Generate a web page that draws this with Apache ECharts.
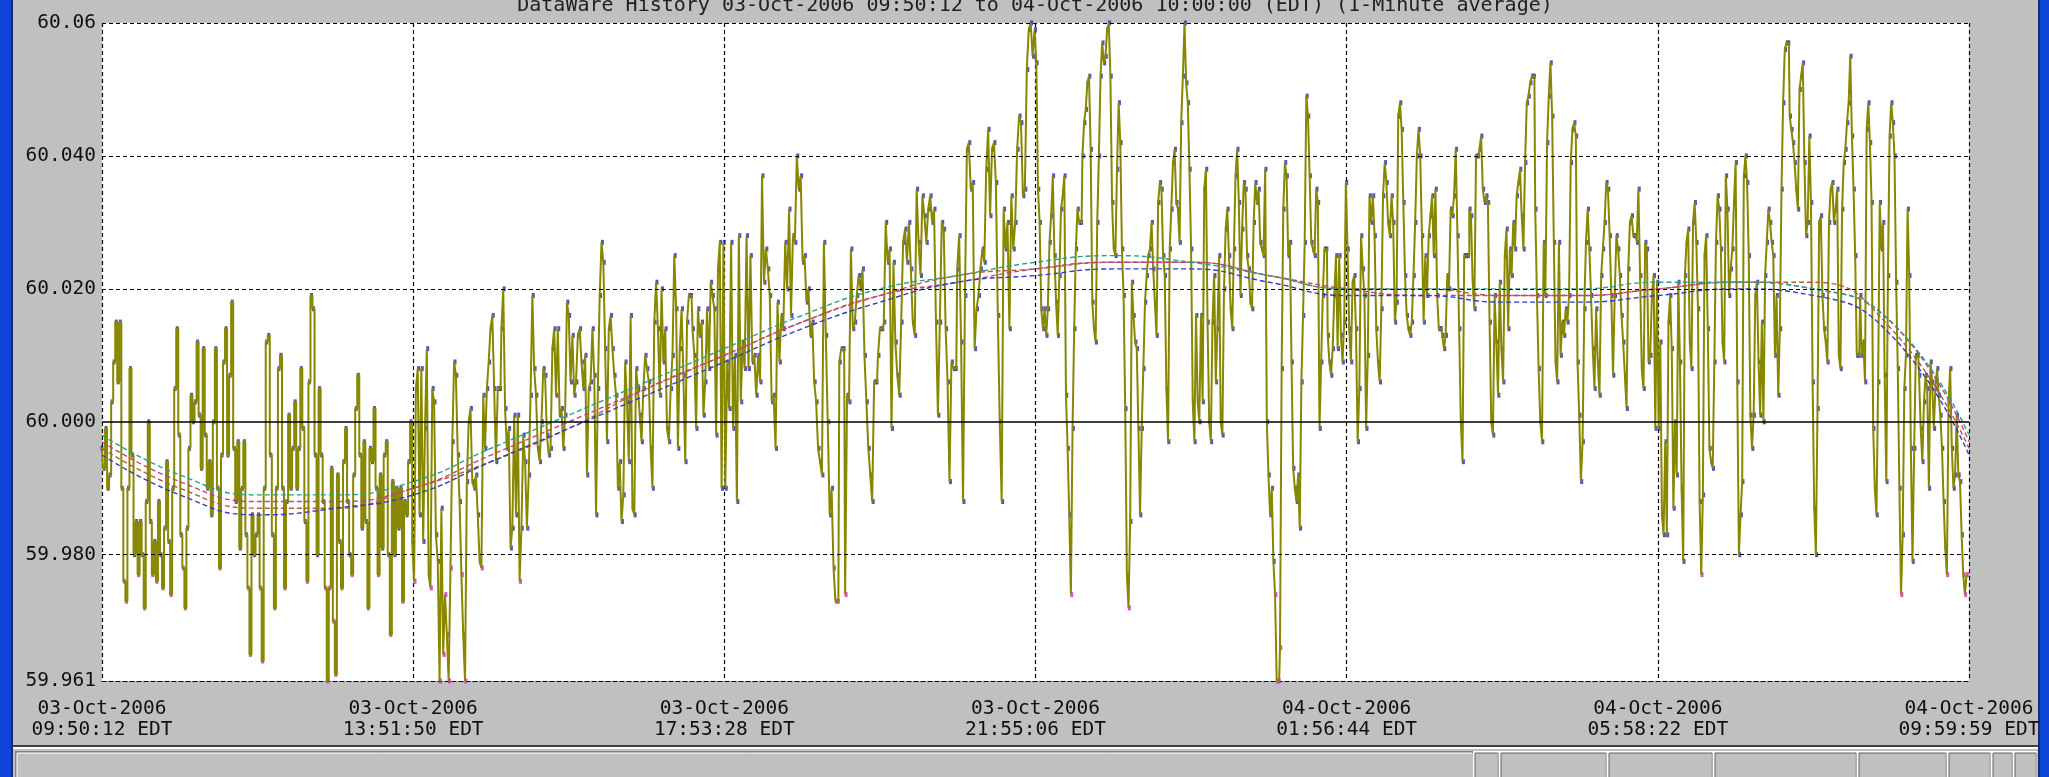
<!DOCTYPE html>
<html><head><meta charset="utf-8">
<script src="https://cdn.jsdelivr.net/npm/echarts@6/dist/echarts.min.js"></script>
<style>html,body{margin:0;padding:0;background:#c0c0c0;overflow:hidden}#c{width:2049px;height:777px;}</style>
</head><body><div id="c"></div><script>
// ---------- DATA ----------
const titleText = 'DataWare History 03-Oct-2006 09:50:12 to 04-Oct-2006 10:00:00 (EDT) (1-Minute average)';
const xTickLabels = ['03-Oct-2006\n09:50:12 EDT','03-Oct-2006\n13:51:50 EDT','03-Oct-2006\n17:53:28 EDT','03-Oct-2006\n21:55:06 EDT','04-Oct-2006\n01:56:44 EDT','04-Oct-2006\n05:58:22 EDT','04-Oct-2006\n09:59:59 EDT'];
const sectionSeconds = 14498;           // 4h01m38s between tick labels
const totalSeconds = 86988;
const yTicks = [60.06, 60.04, 60.02, 60.0, 59.98, 59.961];
const yTickLabels = ['60.06','60.040','60.020','60.000','59.980','59.961'];
const yMin = 59.961, yMax = 60.06;

// 1-minute averaged frequency, read section by section (between x tick labels)
const sec1 = [59.996,59.993,59.999,59.990,59.992,60.003,60.009,60.015,60.006,60.015,59.990,59.976,59.973,59.990,60.008,59.995,59.980,59.985,59.977,59.985,59.980,59.972,59.988,60.000,59.985,59.977,59.982,59.976,59.988,59.980,59.975,59.984,59.994,59.982,59.974,59.990,60.005,60.014,59.998,59.983,59.978,59.972,59.984,59.996,60.004,60.000,60.003,60.012,60.001,59.993,60.011,59.998,59.990,59.994,59.986,60.000,60.011,59.990,59.978,59.995,60.009,60.014,59.995,60.007,60.018,59.996,59.988,59.997,59.981,59.990,59.997,59.983,59.975,59.965,59.986,59.980,59.983,59.986,59.975,59.964,59.990,60.012,60.013,59.995,59.983,59.972,59.990,60.008,60.010,59.990,59.975,59.988,60.001,59.990,59.996,60.003,59.990,59.996,60.008,59.999,59.985,59.976,60.006,60.019,60.017,59.995,59.980,60.005,59.995,59.988,59.975,59.961,59.975,59.993,59.970,59.962,59.992,59.982,59.975,59.994,59.999,59.988,59.980,59.977,59.992,60.002,60.007,59.995,59.984,59.997,59.985,59.972,59.996,59.994,60.002,59.990,59.977,59.992,59.981,59.995,59.997,59.980,59.968,59.991,59.980,59.990,59.984,59.990,59.973,59.988,59.986,59.994,60.000];
const sec2 = [59.982,59.976,60.005,60.008,59.986,60.008,59.982,59.999,60.011,59.977,59.975,60.005,60.003,59.983,59.979,59.961,59.987,59.965,59.974,59.968,59.961,59.978,59.997,60.009,60.007,59.995,59.988,59.977,59.968,59.961,59.991,60.000,60.002,59.991,59.990,59.992,59.986,59.979,59.978,60.004,59.996,60.005,60.009,60.014,60.016,60.005,59.994,60.005,60.005,60.014,60.020,60.002,59.996,59.999,59.981,59.984,60.001,59.986,60.001,59.976,59.984,59.998,59.994,59.984,59.992,60.004,60.019,60.008,60.004,59.996,59.994,60.000,60.008,60.007,59.998,59.995,59.996,60.011,60.014,60.004,60.014,60.001,60.002,59.996,60.001,60.018,60.016,60.006,60.013,60.004,60.006,60.013,60.014,60.009,60.005,60.010,59.992,60.005,60.006,60.014,60.007,59.986,60.005,60.019,60.027,60.024,60.011,59.997,60.014,60.016,60.011,60.007,60.004,59.990,59.994,59.985,59.989,60.009,60.003,59.994,60.016,59.987,59.986,60.008,60.005,60.001,59.997,60.005,60.010,60.008,60.006,59.996,59.990,60.015,60.021,60.014,60.004,60.020,60.009,60.014,59.999,59.997,60.005,60.010,60.025,60.017,59.996,60.011,60.017,60.007,59.994,60.015,60.019,60.019,60.014,60.010,59.999,60.017,60.013,60.015,60.001,60.006,60.017,60.008,60.021,60.019,60.017,59.998,60.023,60.027,59.990];
const sec3 = [60.027,59.990,60.009,60.002,60.027,59.999,60.010,59.988,60.028,60.003,60.012,60.008,60.028,60.008,60.025,60.009,60.010,60.004,60.010,60.006,60.037,60.021,60.026,60.023,60.019,60.003,60.004,59.996,60.018,60.009,60.016,60.014,60.027,60.020,60.032,60.016,60.028,60.027,60.040,60.035,60.037,60.024,60.025,60.018,60.020,60.013,60.015,60.006,60.003,59.996,59.994,59.992,60.027,60.013,60.000,59.986,59.990,59.978,59.973,59.973,60.009,60.011,60.011,59.974,60.004,60.003,60.026,60.014,60.015,60.019,60.022,60.020,60.023,60.010,60.003,59.996,59.992,59.988,60.006,60.006,60.010,60.014,60.014,60.015,60.030,60.024,60.026,59.999,60.024,60.012,60.007,60.004,60.015,60.027,60.029,60.024,60.030,60.023,60.015,60.013,60.035,60.027,60.022,60.034,60.031,60.027,60.032,60.034,60.030,60.032,60.015,60.001,60.015,60.030,60.029,60.014,60.006,59.991,60.009,60.008,60.008,60.023,60.028,60.012,59.988,60.019,60.041,60.042,60.035,60.036,60.011,60.017,60.019,60.023,60.026,60.024,60.038,60.044,60.031,60.041,60.042,60.036,60.016,60.000,59.988,60.032,60.026,60.030,60.014,60.034,60.026,60.030,60.041,60.046,60.045,60.034,60.035,60.053,60.059,60.060,60.055];
const sec4 = [60.059,60.054,60.035,60.030,60.017,60.014,60.017,60.013,60.017,60.027,60.031,60.037,60.025,60.018,60.013,60.022,60.032,60.034,60.037,60.004,59.996,59.986,59.974,59.999,60.014,60.026,60.032,60.030,60.030,60.040,60.045,60.047,60.051,60.052,60.041,60.018,60.014,60.012,60.030,60.040,60.052,60.057,60.054,60.055,60.059,60.060,60.052,60.033,60.026,60.025,60.038,60.048,60.042,60.026,60.019,60.002,59.977,59.972,59.985,60.021,60.016,60.012,60.011,59.999,59.986,59.999,60.008,60.018,60.022,60.025,60.026,60.030,60.023,60.018,60.013,60.033,60.036,60.035,60.025,60.022,60.005,59.997,60.026,60.032,60.039,60.041,60.033,60.032,60.027,60.045,60.052,60.060,60.051,60.048,60.038,60.026,60.003,59.997,60.016,60.003,60.000,60.016,60.003,60.035,60.038,60.015,60.000,59.997,60.015,60.022,60.006,60.014,60.025,60.000,59.998,60.020,60.029,60.032,60.025,60.017,60.014,60.026,60.037,60.041,60.033,60.019,60.029,60.036,60.035,60.025,60.023,60.018,60.017,60.030,60.036,60.033,60.035,60.027,60.026,60.025,60.038,60.000,59.992,59.986,59.990,59.979,59.974,59.961,59.961,59.966,60.008,60.032,60.039,60.037,60.025,60.027,60.009,59.993,59.990,59.988,59.992,59.984,60.006,60.016,60.027,60.049,60.046,60.037,60.027,60.026,60.025,60.035,60.033,59.999,60.009,60.019,60.026,60.026,60.013,60.009,60.007,60.011,60.019,60.025,60.011,60.025,60.013,60.009,60.015];
const sec5 = [60.036,60.026,60.014,60.009,60.021,60.022,60.014,59.997,60.005,60.028,60.023,60.019,59.999,60.010,60.034,60.030,60.034,60.028,60.014,60.009,60.006,60.017,60.034,60.039,60.036,60.030,60.028,60.034,60.030,60.015,60.018,60.046,60.048,60.044,60.033,60.022,60.016,60.014,60.013,60.015,60.022,60.030,60.040,60.044,60.040,60.028,60.015,60.025,60.019,60.028,60.031,60.034,60.025,60.035,60.019,60.014,60.014,60.013,60.011,60.013,60.022,60.020,60.032,60.031,60.034,60.041,60.028,60.014,60.000,59.994,60.025,60.025,60.025,60.032,60.031,60.021,60.017,60.040,60.040,60.041,60.043,60.035,60.033,60.034,60.033,60.015,60.000,59.998,60.019,60.012,60.004,60.021,60.011,60.006,60.025,60.029,60.014,60.026,60.022,60.030,60.026,60.034,60.036,60.038,60.031,60.026,60.039,60.048,60.049,60.051,60.052,60.052,60.032,60.019,60.008,60.000,59.997,60.027,60.019,60.042,60.049,60.054,60.046,60.027,60.009,60.006,60.027,60.010,60.015,60.013,60.017,60.015,60.019,60.039,60.044,60.045,60.043,60.009,60.001,59.991,59.997,60.017,60.027,60.032,60.026,60.019,60.011,60.005,60.017,60.009,60.004,60.022,60.026,60.030,60.036,60.035,60.028,60.019,60.007,60.019,60.028,60.026,60.022,60.016,60.012,60.007,60.002,60.023,60.030,60.031,60.028,60.028,60.027,60.035,60.022,60.008,60.005,60.027,60.026,60.009,60.010,60.019,60.022,59.999];
const sec6 = [60.021,59.999,60.012,59.986,59.983,59.997,59.983,60.015,60.019,60.011,59.987,60.000,59.992,60.021,60.009,59.990,59.979,60.022,60.027,60.029,60.012,60.008,60.030,60.033,60.027,60.017,59.988,59.977,59.989,60.025,60.028,60.014,59.996,59.994,59.993,60.009,60.027,60.034,60.032,60.026,60.012,60.009,60.037,60.032,60.019,60.023,60.026,60.033,60.039,60.006,59.980,59.986,59.991,60.037,60.040,60.036,60.025,60.001,59.996,60.001,60.019,60.021,60.009,60.001,60.015,60.000,60.022,60.027,60.032,60.030,60.027,60.025,60.010,60.019,60.004,60.014,60.035,60.048,60.056,60.057,60.057,60.046,60.044,60.042,60.039,60.035,60.032,60.050,60.052,60.054,60.039,60.028,60.030,60.043,60.033,60.006,59.987,59.980,60.002,60.030,60.031,60.019,60.014,60.012,60.009,60.030,60.035,60.036,60.030,60.032,60.035,60.010,60.008,60.032,60.039,60.041,60.045,60.048,60.055,60.043,60.035,60.025,60.010,60.010,60.019,60.010,60.012,60.006,60.044,60.048,60.042,60.033,59.999,59.990,59.986,60.006,60.033,60.026,60.030,60.007,59.991,60.022,60.043,60.048,60.045,60.040,60.021,60.008,59.990,59.974,59.983,60.005,60.010,60.032,60.022,59.996,59.979,59.996,60.010,60.010,60.007,59.999,59.994,60.003,60.007,60.005,59.990,60.009,60.006,59.999,60.005,60.008,60.004,60.001,59.996,59.988,59.981,59.977,60.003,60.008,59.996,59.990,59.992,60.001,59.992,59.991,59.983,59.977,59.974,59.977];

// slow (dashed) average curves, hourly points across the span
const trendMagenta = [59.997,59.991,59.988,59.988,59.990,59.995,60.000,60.005,60.010,60.015,60.019,60.021,60.023,60.024,60.024,60.022,60.020,60.019,60.019,60.019,60.020,60.021,60.020,60.015,59.997];
const trendBlue    = [59.995,59.989,59.986,59.987,59.989,59.994,59.999,60.004,60.009,60.014,60.018,60.021,60.022,60.023,60.023,60.021,60.019,60.019,60.018,60.018,60.019,60.020,60.019,60.013,59.995];
const trendBrown   = [59.996,59.990,59.987,59.987,59.990,59.994,59.999,60.005,60.010,60.015,60.019,60.022,60.023,60.024,60.024,60.022,60.020,60.020,60.019,60.019,60.020,60.021,60.021,60.014,59.996];
const trendTeal    = [59.998,59.992,59.989,59.989,59.991,59.996,60.001,60.006,60.011,60.016,60.020,60.022,60.024,60.025,60.024,60.022,60.020,60.020,60.020,60.020,60.021,60.021,60.020,60.015,59.998];

// ---------- BUILD ----------
const sections = [sec1, sec2, sec3, sec4, sec5, sec6];
const mainData = [];
sections.forEach((arr, s) => arr.forEach((v, j) => mainData.push([(s + j / arr.length) * sectionSeconds, v])));
const trendPairs = arr => arr.map((v, i) => [i * totalSeconds / (arr.length - 1), v]);

const FONT = 'DejaVu Sans Mono';
const chart = echarts.init(document.getElementById('c'), null, {renderer: 'canvas'});

function trendSeries(name, arr, color) {
  return {name, type: 'line', data: trendPairs(arr), smooth: 0.5, showSymbol: false, z: 4,
    lineStyle: {color, width: 1.4, type: [5, 3]}, silent: true};
}

const gridLines = yTicks.filter(v => v > yMin).map((v, i) => ({
  yAxis: v,
  lineStyle: {type: v === 60.0 ? 'solid' : [4, 3], color: '#000', width: v === 60.0 ? 1.5 : 1.2},
  label: {formatter: yTickLabels[i]}
}));

// window chrome
const H = 777;
const chrome = [
  {type: 'rect', shape: {x: 0, y: 0, width: 11, height: H}, style: {fill: '#0c45d8'}, z: 0},
  {type: 'rect', shape: {x: 11, y: 0, width: 2, height: H}, style: {fill: '#1a2a6a'}, z: 0},
  {type: 'rect', shape: {x: 2040, y: 0, width: 9, height: H}, style: {fill: '#0c45d8'}, z: 0},
  {type: 'rect', shape: {x: 2038, y: 0, width: 2, height: H}, style: {fill: '#1a2a6a'}, z: 0},
  {type: 'rect', shape: {x: 13, y: 745, width: 2025, height: 2}, style: {fill: '#404040'}, z: 0},
  {type: 'rect', shape: {x: 13, y: 747, width: 2025, height: 2}, style: {fill: '#ffffff'}, z: 0},
];
const btns = [[16,1472],[1474,1498],[1500,1606],[1608,1712],[1714,1856],[1858,1946],[1948,1990],[1992,2012],[2014,2036]];
btns.forEach(([a, b], k) => {
  chrome.push({type: 'rect', shape: {x: a, y: 752, width: b - a, height: 30},
    style: {fill: '#c0c0c0', stroke: k === 0 ? '#808080' : '#ffffff', lineWidth: 2}, z: 0});
  chrome.push({type: 'rect', shape: {x: a + 1, y: 753, width: b - a - 1, height: 30},
    style: {fill: 'none', stroke: k === 0 ? '#ffffff' : '#606060', lineWidth: 1}, z: 0});
});
chrome.push({type: 'text', x: 1035, y: -4, z: 10,
  style: {text: titleText, font: '20px "' + FONT + '"', fill: '#202020', textAlign: 'center', textVerticalAlign: 'top'}});

chart.setOption({
  animation: false,
  backgroundColor: '#c0c0c0',
  graphic: {elements: chrome},
  grid: {left: 102, right: 80, top: 23, bottom: 96, show: true, backgroundColor: '#ffffff', borderWidth: 0},
  xAxis: {
    type: 'value', min: 0, max: totalSeconds, interval: sectionSeconds,
    axisLine: {show: true, lineStyle: {color: '#000', type: [4, 3], width: 1.2}}, axisTick: {show: false},
    splitLine: {show: true, lineStyle: {color: '#000', type: [4, 3], width: 1.2}},
    axisLabel: {
      showMinLabel: true, showMaxLabel: true, hideOverlap: false,
      formatter: v => xTickLabels[Math.round(v / sectionSeconds)],
      fontFamily: FONT, fontSize: 19.5, color: '#101010', lineHeight: 21, margin: 17
    }
  },
  yAxis: {
    type: 'value', min: yMin, max: yMax,
    axisLine: {show: false}, axisTick: {show: false}, splitLine: {show: false},
    axisLabel: {show: true, showMinLabel: true, showMaxLabel: false, margin: 6,
      formatter: v => (Math.abs(v - yMin) < 1e-6 ? yTickLabels[yTickLabels.length - 1] : ''),
      fontFamily: FONT, fontSize: 19.5, color: '#101010'}
  },
  series: [
    {name: 'freqMarks', type: 'scatter', data: mainData, symbol: 'rect', symbolSize: [3, 5], z: 2, silent: true,
      itemStyle: {color: p => (p.value[1] <= 59.978 ? '#d028c8' : '#2a2ab0')}},
    {name: 'freq', type: 'line', data: mainData, step: 'middle', showSymbol: false, z: 3,
      lineStyle: {color: '#878700', width: 2.0}, sampling: null, silent: true},
    trendSeries('avgBrown', trendBrown, '#b06038'),
    trendSeries('avgMagenta', trendMagenta, '#c0408a'),
    trendSeries('avgBlue', trendBlue, '#3838c8'),
    trendSeries('avgTeal', trendTeal, '#28a090'),
    {name: 'grid', type: 'line', data: [], z: 6, silent: true,
      markLine: {silent: true, symbol: ['none', 'none'], animation: false, data: gridLines,
        label: {position: 'start', distance: 6, color: '#101010', fontFamily: FONT, fontSize: 19.5}}}
  ]
});
</script></body></html>
